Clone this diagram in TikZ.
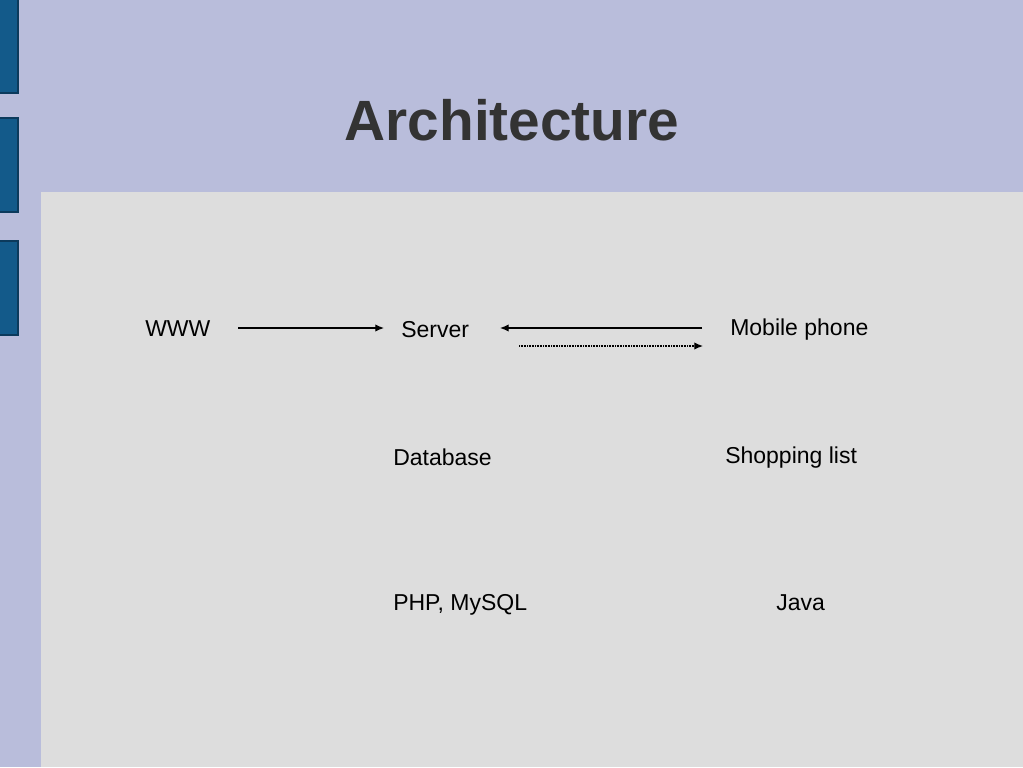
\documentclass[tikz,border=0pt]{standalone}
\usepackage{fontspec}
\setmainfont{Liberation Sans}
\usetikzlibrary{arrows.meta}
\definecolor{bgpurple}{HTML}{B9BDDB}
\definecolor{panelgray}{HTML}{DDDDDD}
\definecolor{barblue}{HTML}{135A8A}
\definecolor{baredge}{HTML}{0C3A5C}
\definecolor{titlegray}{HTML}{333333}
\tikzset{
  lbl/.style={anchor=base west, inner sep=0pt, font=\fontsize{17.25pt}{20pt}\selectfont, text=black},
  bar/.style={fill=barblue, draw=baredge, line width=0.8pt},
  conn/.style={line width=0.9pt, -{Latex[length=6.5pt,width=5.5pt]}},
  dotconn/.style={line width=0.9pt, dotted, dash pattern=on 0.6pt off 0.6pt, -{Latex[length=6.5pt,width=5.5pt]}}
}
\begin{document}
\begin{tikzpicture}[x=0.75pt,y=-0.75pt]
\useasboundingbox (0,0) rectangle (1023,767);
\fill[bgpurple] (0,0) rectangle (1023,767);
\fill[panelgray] (41,192) rectangle (1023,767);
\draw[bar] (-2,-2) rectangle (18,93);
\draw[bar] (-2,118) rectangle (18,212);
\draw[bar] (-2,241) rectangle (18,335);
\node[anchor=base, inner sep=0pt, font=\fontsize{42.6pt}{48pt}\selectfont\bfseries, text=titlegray] (title) at (512,140) {Architecture};
\node[lbl] (www) at (145,336) {WWW};
\node[lbl] (server) at (401,337) {Server};
\node[lbl] (mobile) at (730,335) {Mobile phone};
\node[lbl] (db) at (393,465) {Database};
\node[lbl] (shop) at (725,463) {Shopping list};
\node[lbl] (php) at (393,610) {PHP, MySQL};
\node[lbl] (java) at (776,610) {Java};
\coordinate (a1s) at (238,328);
\coordinate (a1e) at (384,328);
\coordinate (a2s) at (702,328);
\coordinate (a2e) at (500,328);
\coordinate (a3s) at (519,346);
\coordinate (a3e) at (703,346);
\draw[conn] (a1s) -- (a1e);
\draw[conn] (a2s) -- (a2e);
\draw[dotconn] (a3s) -- (a3e);
\end{tikzpicture}
\end{document}
